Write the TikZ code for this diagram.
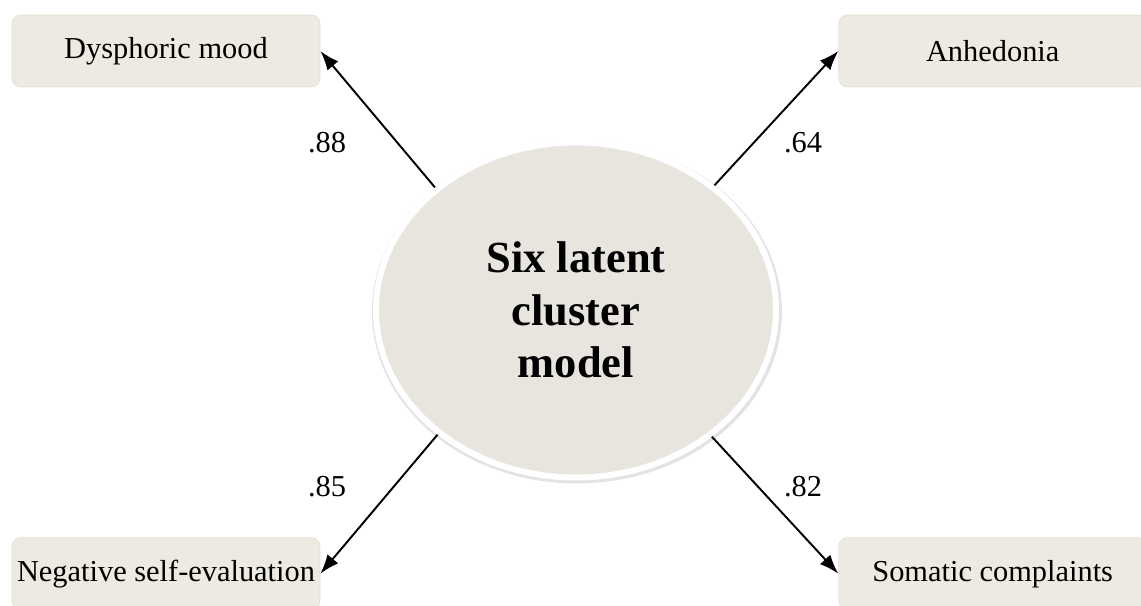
\documentclass[tikz,border=0pt]{standalone}
\usepackage{fontspec}
\setmainfont{Liberation Serif}
\usepackage{tikz}
\usetikzlibrary{positioning,shapes,arrows.meta,shadows}
\definecolor{boxfill}{RGB}{237,235,225}
\definecolor{boxline}{RGB}{226,223,211}
\definecolor{latentfill}{RGB}{231,229,221}
\tikzset{factor node/.style={rectangle,rounded corners=5pt,fill=boxfill,draw=boxline,minimum width=6.16cm,minimum height=1.44cm,inner sep=0pt,font=\fontsize{17.3}{20}\selectfont},
latent node/.style={ellipse,fill=latentfill,draw=white,line width=3.4pt,minimum width=8cm,minimum height=6.7cm,inner sep=0pt,align=center,font=\fontsize{25.3}{30}\selectfont\bfseries,drop shadow={opacity=0.22,shadow scale=1.025,shadow xshift=0.5pt,shadow yshift=-1pt}},
coef label/.style={font=\fontsize{17.3}{20}\selectfont},
loading/.style={draw,line width=1.1pt,-{Latex[length=11pt,width=8pt]}},
}

\begin{document}
\begin{tikzpicture}
		\useasboundingbox (0,0) rectangle (22.82,12.12);
		\node[factor node] (1) at (3.32,11.10) {Dysphoric mood};
		\node[factor node] (2) [right = 10.36cm of 1] {Anhedonia};
		\node[factor node] (3) [below = 9cm of 1] {Negative self-evaluation};
		\node[factor node] (4) [right = 10.36cm of 3] {Somatic complaints};
		\node[latent node] (0) at (11.52,5.92) {Six latent\\cluster\\model};
		
		\node[coef label] (l1) at (6.54,9.26) {.88};
		\node[coef label] (l2) at (16.06,9.26) {.64};
		\node[coef label] (l3) at (6.54,2.38) {.85};
		\node[coef label] (l4) at (16.06,2.38) {.82};
		
		\path
		(0.139) edge[loading] node {} (1.east)
		(0.42) edge[loading] node {} (2.west)
		(0.222) edge[loading] node {} (3.east)
		(0.317) edge[loading] node {} (4.west)
		;
\end{tikzpicture}
\end{document}
